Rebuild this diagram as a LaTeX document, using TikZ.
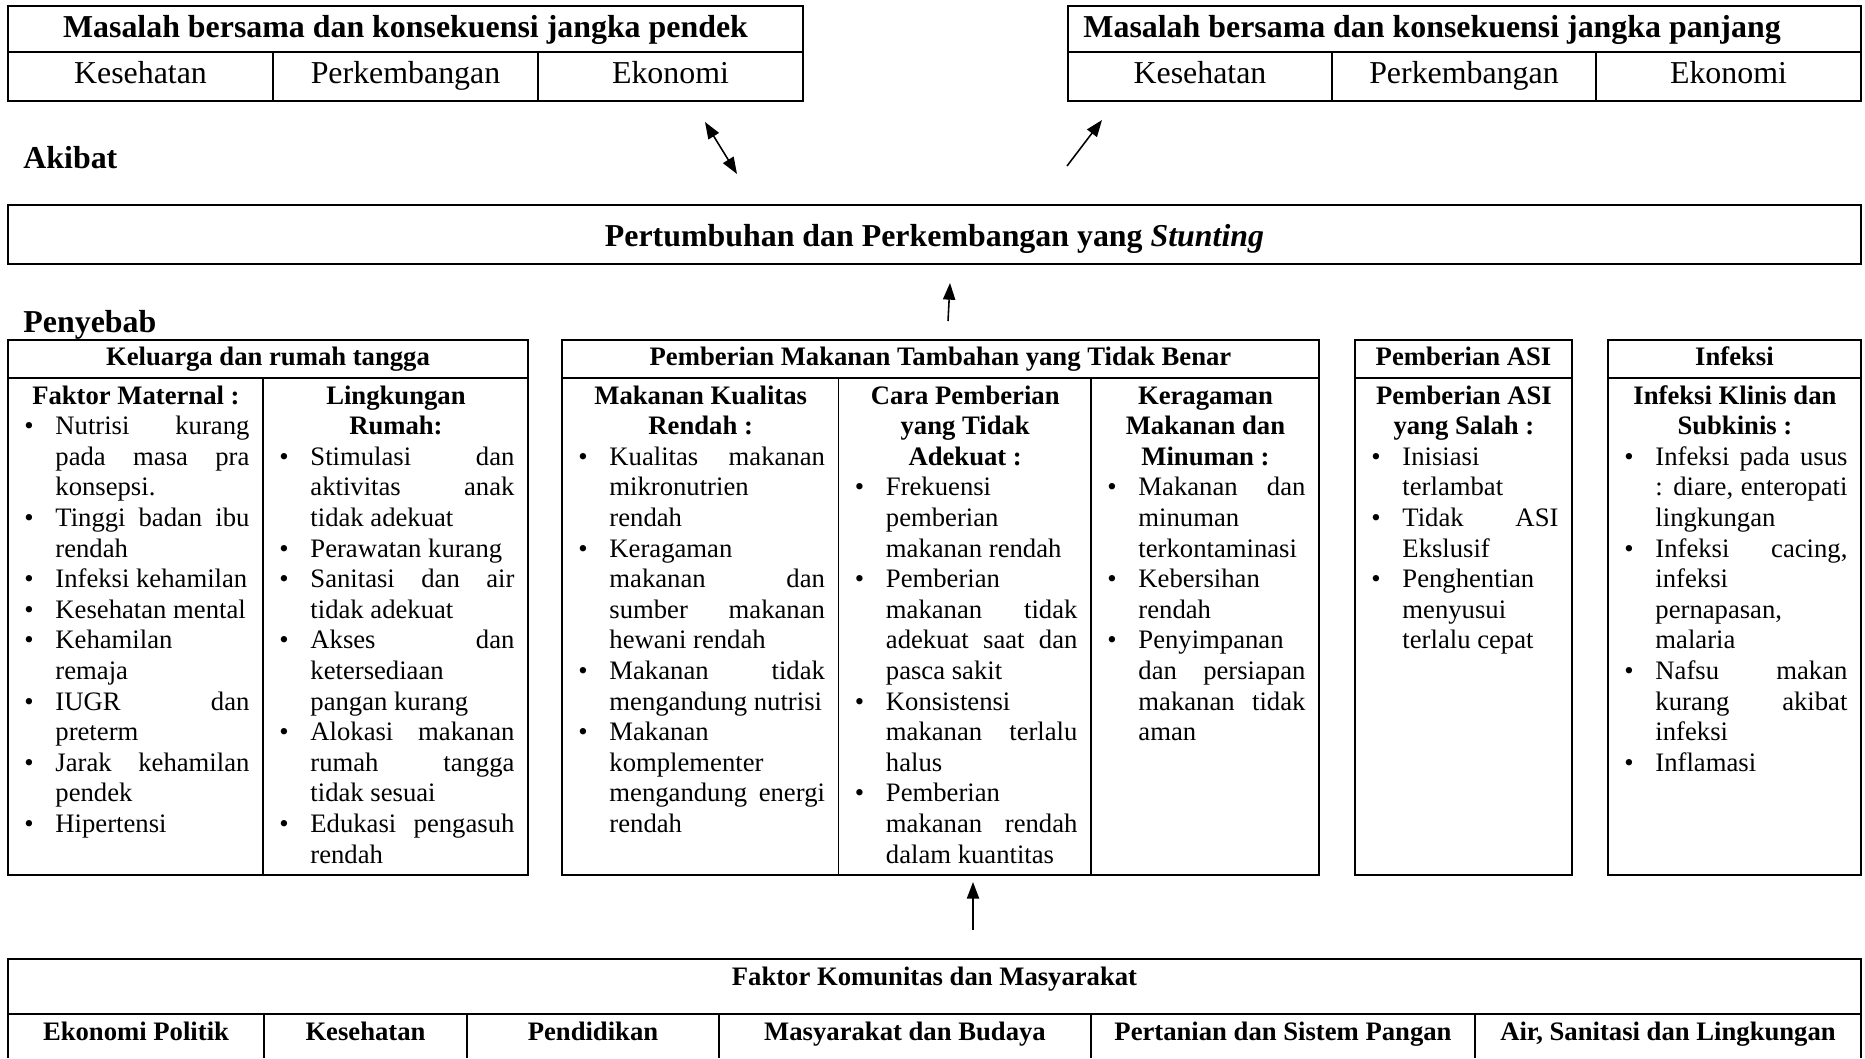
\documentclass[tikz,border=0pt]{standalone}
\usepackage{fontspec}
\setmainfont{Liberation Serif}
\usepackage{enumitem}
\usetikzlibrary{arrows.meta, positioning}
\newlength{\px}
\setlength{\px}{0.45pt}
\setlist[itemize]{label=\textbullet, leftmargin=33\px, labelindent=2\px, labelwidth=10\px, labelsep=21\px, align=left,
  topsep=0pt, partopsep=0pt, itemsep=0pt, parsep=0pt}
\newcommand{\coltitle}[1]{{\centering\bfseries #1\par}}
\tolerance=10000
\hyphenpenalty=10000

\begin{document}
\begin{tikzpicture}[x=0.45pt, y=-0.45pt,
    frame/.style={line width=0.8pt},
    arr/.style={-{Triangle[length=7.5pt, width=5.5pt]}, line width=0.7pt},
    dblarr/.style={{Triangle[length=7.5pt, width=5.5pt]}-{Triangle[length=7.5pt, width=5.5pt]}, line width=0.7pt},
    big/.style={font=\fontsize{14.35}{16}\selectfont, inner sep=0pt, anchor=base},
    bigb/.style={font=\bfseries\fontsize{14.35}{16}\selectfont, inner sep=0pt, anchor=base},
    hd/.style={font=\bfseries\fontsize{12}{13.77}\selectfont, inner sep=0pt, anchor=base},
    col/.style={font=\fontsize{12}{13.77}\selectfont, inner sep=0pt, anchor=base west, align=justify}]
  \path[use as bounding box, fill=white] (0,0) rectangle (1865,1058);

  % Akibat: short and long term tables
  \draw[frame] (8,6) rectangle (803,101);
  \draw[frame] (8,52) -- (803,52) (273,52) -- (273,101) (538,52) -- (538,101);
  \node[bigb] (pendek) at (405.5,37) {Masalah bersama dan konsekuensi jangka pendek};
  \node[big] (kes1) at (140.5,83) {Kesehatan};
  \node[big] (per1) at (405.5,83) {Perkembangan};
  \node[big] (eko1) at (670.5,83) {Ekonomi};

  \draw[frame] (1068,6) rectangle (1861,101);
  \draw[frame] (1068,52) -- (1861,52) (1332,52) -- (1332,101) (1596,52) -- (1596,101);
  \node[bigb, anchor=base west] (panjang) at (1083,37) {Masalah bersama dan konsekuensi jangka panjang};
  \node[big] (kes2) at (1200,83) {Kesehatan};
  \node[big] (per2) at (1464,83) {Perkembangan};
  \node[big] (eko2) at (1728.5,83) {Ekonomi};

  \node[bigb, anchor=base west] (akibat) at (23,168) {Akibat};

  % Stunting
  \draw[frame] (8,205) rectangle (1861,264);
  \node[bigb] (stunting) at (934.5,246) {Pertumbuhan dan Perkembangan yang \textit{Stunting}};

  \node[bigb, anchor=base west] (penyebab) at (23,332) {Penyebab};

  % Keluarga dan rumah tangga
  \draw[frame] (8,340) rectangle (528,875);
  \draw[frame] (8,378) -- (528,378) (263,378) -- (263,875);
  \node[hd] (keluarga) at (268,365) {Keluarga dan rumah tangga};
  \node[col, text width=227\px] (maternal) at (22,404) {\coltitle{Faktor Maternal :}
    \begin{itemize}
      \item Nutrisi kurang\linebreak pada masa pra\linebreak konsepsi.
      \item Tinggi badan ibu\linebreak rendah
      \item Infeksi kehamilan
      \item Kesehatan mental
      \item Kehamilan\linebreak remaja
      \item IUGR dan\linebreak preterm
      \item Jarak kehamilan\linebreak pendek
      \item Hipertensi
    \end{itemize}};
  \node[col, text width=237\px] (rumah) at (277,404) {\coltitle{Lingkungan\\ Rumah:}
    \begin{itemize}
      \item Stimulasi dan\linebreak aktivitas anak\linebreak tidak adekuat
      \item Perawatan kurang
      \item Sanitasi dan air\linebreak tidak adekuat
      \item Akses dan\linebreak ketersediaan\linebreak pangan kurang
      \item Alokasi makanan\linebreak rumah tangga\linebreak tidak sesuai
      \item Edukasi pengasuh\linebreak rendah
    \end{itemize}};

  % Pemberian makanan tambahan
  \draw[frame] (562,340) rectangle (1319,875);
  \draw[frame] (562,378) -- (1319,378) (838.5,378) -- (838.5,875) (1091,378) -- (1091,875);
  \node[hd] (pmt) at (940.5,365) {Pemberian Makanan Tambahan yang Tidak Benar};
  \node[col, text width=248.5\px] (kualitas) at (576,404) {\coltitle{Makanan Kualitas\\ Rendah :}
    \begin{itemize}
      \item Kualitas makanan\linebreak mikronutrien\linebreak rendah
      \item Keragaman\linebreak makanan dan\linebreak sumber makanan\linebreak hewani rendah
      \item Makanan tidak\linebreak mengandung nutrisi
      \item Makanan\linebreak komplementer\linebreak mengandung energi\linebreak rendah
    \end{itemize}};
  \node[col, text width=224.5\px] (cara) at (852.5,404) {\coltitle{Cara Pemberian\\ yang Tidak\\ Adekuat :}
    \begin{itemize}
      \item Frekuensi\linebreak pemberian\linebreak makanan rendah
      \item Pemberian\linebreak makanan tidak\linebreak adekuat saat dan\linebreak pasca sakit
      \item Konsistensi\linebreak makanan terlalu\linebreak halus
      \item Pemberian\linebreak makanan rendah\linebreak dalam kuantitas
    \end{itemize}};
  \node[col, text width=200\px] (ragam) at (1105,404) {\coltitle{Keragaman\\ Makanan dan\\ Minuman :}
    \begin{itemize}
      \item Makanan dan\linebreak minuman\linebreak terkontaminasi
      \item Kebersihan\linebreak rendah
      \item Penyimpanan\linebreak dan persiapan\linebreak makanan tidak\linebreak aman
    \end{itemize}};

  % Pemberian ASI
  \draw[frame] (1355,340) rectangle (1572,875);
  \draw[frame] (1355,378) -- (1572,378);
  \node[hd] (asi) at (1463.5,365) {Pemberian ASI};
  \node[col, text width=189\px] (asisalah) at (1369,404) {\coltitle{Pemberian ASI\\ yang Salah :}
    \begin{itemize}
      \item Inisiasi\linebreak terlambat
      \item Tidak ASI\linebreak Ekslusif
      \item Penghentian\linebreak menyusui\linebreak terlalu cepat
    \end{itemize}};

  % Infeksi
  \draw[frame] (1608,340) rectangle (1861,875);
  \draw[frame] (1608,378) -- (1861,378);
  \node[hd] (infeksi) at (1734.5,365) {Infeksi};
  \node[col, text width=225\px] (klinis) at (1622,404) {\coltitle{Infeksi Klinis dan\\ Subkinis :}
    \begin{itemize}
      \item Infeksi pada usus\linebreak : diare, enteropati\linebreak lingkungan
      \item Infeksi cacing,\linebreak infeksi\linebreak pernapasan,\linebreak malaria
      \item Nafsu makan\linebreak kurang akibat\linebreak infeksi
      \item Inflamasi
    \end{itemize}};

  % Faktor komunitas dan masyarakat
  \draw[frame] (8,1058) -- (8,959) -- (1861,959) -- (1861,1058);
  \draw[frame] (8,1014) -- (1861,1014);
  \foreach \xc in {264,467,719,1091,1475}
    \draw[frame] (\xc,1014) -- (\xc,1058);
  \node[hd] (komunitas) at (934.5,985) {Faktor Komunitas dan Masyarakat};
  \node[hd] (politik) at (136,1040) {Ekonomi Politik};
  \node[hd] (kes3) at (365.5,1040) {Kesehatan};
  \node[hd] (didik) at (593,1040) {Pendidikan};
  \node[hd] (budaya) at (905,1040) {Masyarakat dan Budaya};
  \node[hd] (pangan) at (1283,1040) {Pertanian dan Sistem Pangan};
  \node[hd] (air) at (1668,1040) {Air, Sanitasi dan Lingkungan};

  % Arrows
  \coordinate (sh1) at (705,122);
  \coordinate (sh2) at (737,174);
  \coordinate (lg1) at (1067,166);
  \coordinate (lg2) at (1102,120);
  \coordinate (up1) at (948,321);
  \coordinate (up2) at (950,283);
  \coordinate (kom1) at (973,930);
  \coordinate (kom2) at (973,882);
  \draw[dblarr] (sh1) -- (sh2);
  \draw[arr] (lg1) -- (lg2);
  \draw[arr] (up1) -- (up2);
  \draw[arr] (kom1) -- (kom2);
\end{tikzpicture}
\end{document}
